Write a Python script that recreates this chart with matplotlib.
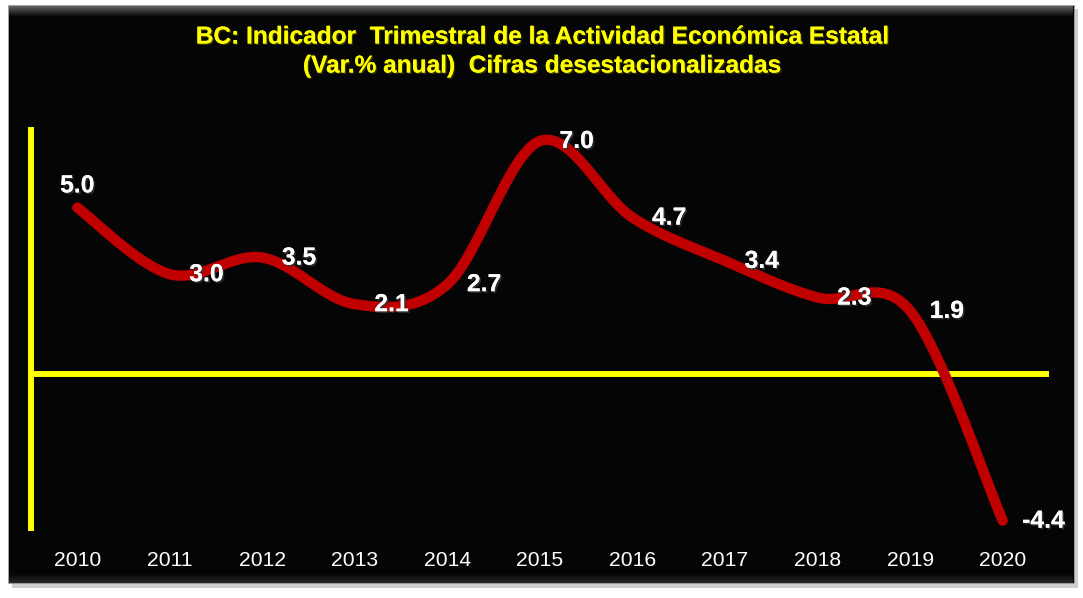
import numpy as np
import matplotlib
matplotlib.use("Agg")
import matplotlib.pyplot as plt
from matplotlib.patches import Rectangle
import matplotlib.patheffects as pe

plt.rcParams['font.family'] = ['Liberation Sans', 'DejaVu Sans']

years = ['2010', '2011', '2012', '2013', '2014', '2015', '2016', '2017', '2018', '2019', '2020']
values = [5.0, 3.0, 3.5, 2.1, 2.7, 7.0, 4.7, 3.4, 2.3, 1.9, -4.4]
title_line1 = 'BC: Indicador  Trimestral de la Actividad Económica Estatal'
title_line2 = '(Var.% anual)  Cifras desestacionalizadas'

W, H = 1083, 598
fig = plt.figure(figsize=(W / 100, H / 100), dpi=100)
fig.patch.set_facecolor('white')

def fx(px):
    return px / W

def fy(py):
    return 1 - py / H

# shadow
fig.patches.append(Rectangle((fx(12), fy(588)), fx(1078) - fx(12), fy(9) - fy(588),
                             transform=fig.transFigure, facecolor='#cfcfcf', edgecolor='none', zorder=0))
# panel
fig.patches.append(Rectangle((fx(8), fy(583)), fx(1074) - fx(8), fy(5) - fy(583),
                             transform=fig.transFigure, facecolor='#050505', edgecolor='#b0b0b0',
                             linewidth=0.5, zorder=1))
# top bevel gradient
bev = fig.add_axes([fx(9), fy(16), fx(1073) - fx(9), fy(6) - fy(16)], zorder=2)
grad = np.linspace(0.38, 0.05, 20)[:, None] * np.ones((20, 200))
bev.imshow(grad, cmap='gray', vmin=0, vmax=1, aspect='auto', extent=[0, 1, 0, 1], origin='upper')
bev.axis('off')
# bottom bevel
bev2 = fig.add_axes([fx(9), fy(583), fx(1073) - fx(9), fy(575) - fy(583)], zorder=2)
grad2 = np.linspace(0.04, 0.16, 20)[:, None] * np.ones((20, 200))
bev2.imshow(grad2, cmap='gray', vmin=0, vmax=1, aspect='auto', extent=[0, 1, 0, 1], origin='upper')
bev2.axis('off')

ax = fig.add_axes([fx(31), fy(528), fx(1049) - fx(31), fy(130) - fy(528)], zorder=3)
ax.set_facecolor('none')
ax.set_xlim(-0.5, 10.5)
ax.set_ylim(-4.62, 7.33)

# smooth curve (Catmull-Rom / Excel style)
x = np.arange(len(values), dtype=float)
y = np.array(values, dtype=float)
P = np.column_stack([x, y])
Pext = np.vstack([P[0], P, P[-1]])
curve = []
t = np.linspace(0, 1, 60)[:, None]
for i in range(len(P) - 1):
    p0, p1, p2, p3 = Pext[i], Pext[i + 1], Pext[i + 2], Pext[i + 3]
    c1 = p1 + (p2 - p0) / 6
    c2 = p2 - (p3 - p1) / 6
    seg = ((1 - t) ** 3) * p1 + 3 * ((1 - t) ** 2) * t * c1 + 3 * (1 - t) * t ** 2 * c2 + t ** 3 * p2
    curve.append(seg)
curve = np.vstack(curve)

ax.axhline(0, color='#FFFF00', lw=4.3, zorder=2)
ax.plot(curve[:, 0], curve[:, 1], color='#C00000', lw=7.5, solid_capstyle='round', zorder=3)

for s in ['top', 'right', 'bottom']:
    ax.spines[s].set_visible(False)
ax.spines['left'].set_color('#FFFF00')
ax.spines['left'].set_linewidth(4.3)
ax.set_yticks([])
ax.set_xticks([])

shadow = [pe.withSimplePatchShadow(offset=(1.2, -1.2), shadow_rgbFace='#303030', alpha=0.9), pe.Normal()]
for i, (v, yr) in enumerate(zip(values, years)):
    if i == 0:
        ax.annotate(f'{v:.1f}', (i, v), xytext=(0, 16), textcoords='offset points',
                    ha='center', va='center', color='white', fontsize=17.8, fontweight='bold',
                    path_effects=shadow, zorder=4)
    else:
        ax.annotate(f'{v:.1f}', (i, v), xytext=(14, 0), textcoords='offset points',
                    ha='left', va='center', color='white', fontsize=17.8, fontweight='bold',
                    path_effects=shadow, zorder=4)
    ax.text(i, -0.082, yr, transform=ax.get_xaxis_transform(), ha='center', va='center',
            color='white', fontsize=15.2, zorder=4)

tshadow = [pe.withSimplePatchShadow(offset=(1, -1), shadow_rgbFace='#404000', alpha=0.8), pe.Normal()]
fig.text(fx(542), fy(37), title_line1, ha='center', va='center', color='#FFFF00',
         fontsize=17.6, fontweight='bold', path_effects=tshadow, zorder=5)
fig.text(fx(542), fy(66), title_line2, ha='center', va='center', color='#FFFF00',
         fontsize=17.6, fontweight='bold', path_effects=tshadow, zorder=5)

fig.savefig('out.png', dpi=100, facecolor='white')
